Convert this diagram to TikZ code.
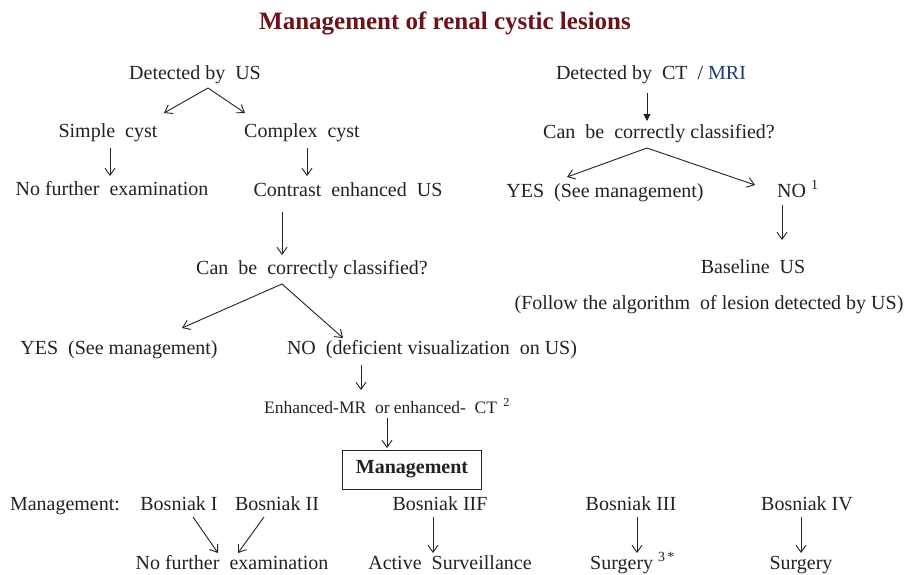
\documentclass[tikz,border=0pt]{standalone}
\usepackage{fontspec}
\setmainfont{Liberation Serif}
\usetikzlibrary{arrows.meta}
\definecolor{txt}{HTML}{222222}
\definecolor{ttl}{HTML}{6E1218}
\definecolor{mri}{HTML}{1F3A7A}
\tikzset{
  lbl/.style={inner sep=0pt, text height=16.5pt, text depth=2pt, text=txt, font=\fontsize{20}{24}\selectfont},
  small/.style={inner sep=0pt, text height=14pt, text depth=2pt, text=txt, font=\fontsize{17.5}{20}\selectfont},
  arr/.style={draw=txt, line width=0.9pt, -{Straight Barb[length=7pt,width=10pt]}},
  farr/.style={draw=txt, line width=0.9pt, -{Triangle[length=7pt,width=7pt]}},
}
\begin{document}
\begin{tikzpicture}[x=1pt,y=-1pt]
\useasboundingbox (0,0) rectangle (908,574);
\node[inner sep=0pt, text=ttl, font=\fontsize{25}{28}\bfseries] (title) at (445,23) {Management\ of renal\ cystic\ lesions};

% left column
\node[lbl] (us) at (195,72) {Detected by\ \ US};
\node[lbl] (simple) at (108,130) {Simple\ \ cyst};
\node[lbl] (complex) at (302,130) {Complex\ \ cyst};
\node[lbl] (nofurther1) at (112,188) {No further\ \ examination};
\node[lbl] (ceus) at (348,189) {Contrast\ \ enhanced\ \ US};
\node[lbl] (clsL) at (312,267) {Can\ \ be\ \ correctly classified?};
\node[lbl] (yesL) at (119,347) {YES\ \ (See management)};
\node[lbl] (noL) at (432,347) {NO\ \ (deficient visualization\ \ on US)};
\node[small, anchor=west] (enh) at (264,407) {Enhanced-MR\ \ or enhanced-\ \ CT \textsuperscript{\,2}};
\node[draw=txt, line width=0.9pt, minimum width=139pt, minimum height=39pt, inner sep=0pt, text=txt, font=\fontsize{20}{24}\bfseries] (mgmt) at (412,469.5) {Management};

% right column
\node[lbl] (ct) at (651,72) {Detected by\ \ CT\ \ / \textcolor{mri}{MRI}};
\node[lbl] (clsR) at (659,131) {Can\ \ be\ \ correctly classified?};
\node[lbl] (yesR) at (605,190) {YES\ \ (See management)};
\node[lbl, anchor=west] (noR) at (777,190) {NO \textsuperscript{1}};
\node[lbl] (base) at (753,266) {Baseline\ \ US};
\node[lbl] (follow) at (709,302) {(Follow the algorithm\ \ of lesion detected by US)};

% bottom rows
\node[lbl] (mlab) at (65,503) {Management:};
\node[lbl] (b1) at (179,503) {Bosniak I};
\node[lbl] (b2) at (277,503) {Bosniak II};
\node[lbl] (b2f) at (440,503) {Bosniak IIF};
\node[lbl] (b3) at (631,503) {Bosniak III};
\node[lbl] (b4) at (807,503) {Bosniak IV};
\node[lbl] (nofurther2) at (232,562) {No further\ \ examination};
\node[lbl] (active) at (450,562) {Active\ \ Surveillance};
\node[lbl, anchor=west] (surg3) at (590,562) {Surgery \textsuperscript{3\,*}};
\node[lbl] (surg4) at (801,562) {Surgery};

% connector points
\coordinate (usA) at (208,88);
\coordinate (usL) at (164,113);
\coordinate (usR) at (245,113);
\coordinate (sA) at (110,148); \coordinate (sB) at (110,176);
\coordinate (cA) at (307,148); \coordinate (cB) at (307,176);
\coordinate (eA) at (282,212); \coordinate (eB) at (282,255);
\coordinate (kA) at (282,284);
\coordinate (kL) at (182,328);
\coordinate (kR) at (343,338);
\coordinate (nA) at (361,365); \coordinate (nB) at (361,390);
\coordinate (mA) at (387,418); \coordinate (mB) at (387,448);
\coordinate (b1A) at (193,517); \coordinate (b1B) at (218,553);
\coordinate (b2A) at (264,517); \coordinate (b2B) at (238,553);
\coordinate (bfA) at (433,517); \coordinate (bfB) at (433,553);
\coordinate (b3A) at (637,517); \coordinate (b3B) at (637,553);
\coordinate (b4A) at (801,517); \coordinate (b4B) at (801,553);
\coordinate (ctA) at (647,93); \coordinate (ctB) at (647,121);
\coordinate (rA) at (647,148);
\coordinate (rL) at (567,177);
\coordinate (rR) at (755,185);
\coordinate (noA) at (782,205); \coordinate (noB) at (782,240);

\draw[arr] (usA) -- (usL);
\draw[arr] (usA) -- (usR);
\draw[arr] (sA) -- (sB);
\draw[arr] (cA) -- (cB);
\draw[arr] (eA) -- (eB);
\draw[arr] (kA) -- (kL);
\draw[arr] (kA) -- (kR);
\draw[arr] (nA) -- (nB);
\draw[arr] (mA) -- (mB);
\draw[arr] (b1A) -- (b1B);
\draw[arr] (b2A) -- (b2B);
\draw[arr] (bfA) -- (bfB);
\draw[arr] (b3A) -- (b3B);
\draw[arr] (b4A) -- (b4B);
\draw[farr] (ctA) -- (ctB);
\draw[arr] (rA) -- (rL);
\draw[arr] (rA) -- (rR);
\draw[arr] (noA) -- (noB);
\end{tikzpicture}
\end{document}
